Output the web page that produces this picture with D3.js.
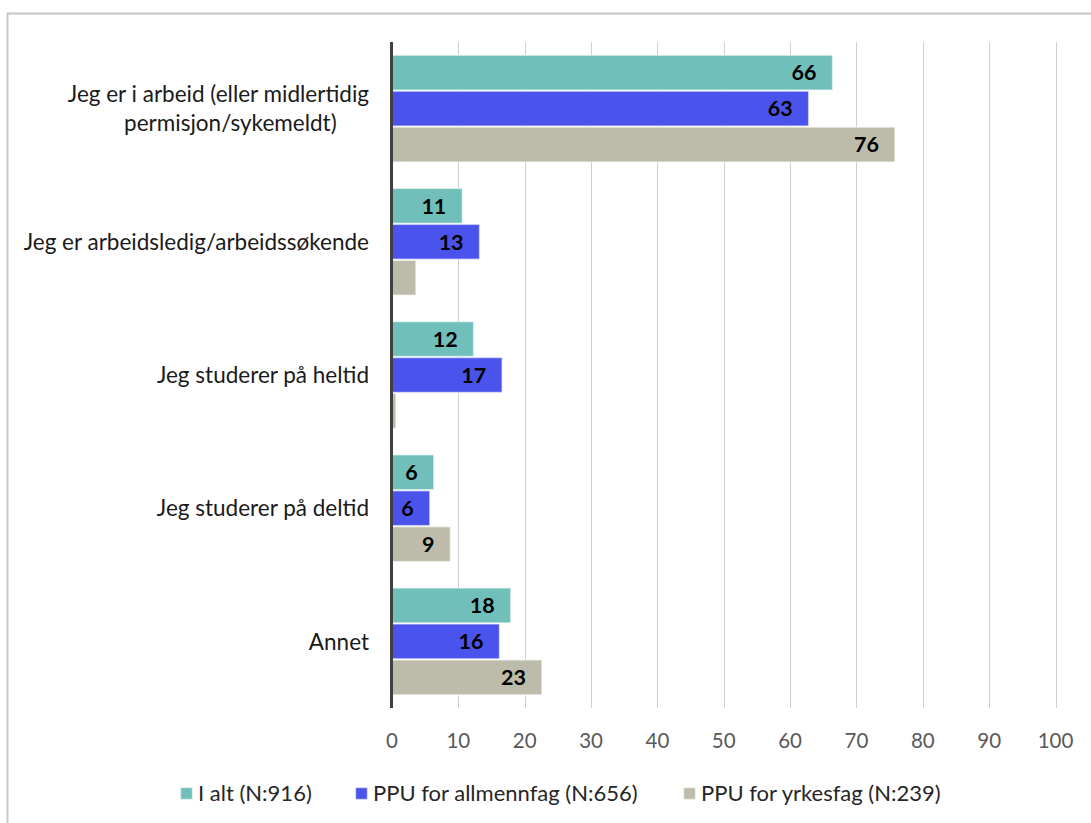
<!DOCTYPE html>
<html>
<head>
<meta charset="utf-8">
<script src="https://cdn.jsdelivr.net/npm/d3@7"></script>
<style>
  html, body { margin: 0; padding: 0; background: #fff; }
  svg { display: block; font-family: Lato, "Open Sans", sans-serif; }
</style>
</head>
<body>
<svg id="chart" width="1091" height="823"></svg>
<script>
// ---- data ----
const categories = [
  ["Jeg er i arbeid (eller midlertidig", "permisjon/sykemeldt)"],
  ["Jeg er arbeidsledig/arbeidssøkende"],
  ["Jeg studerer på heltid"],
  ["Jeg studerer på deltid"],
  ["Annet"]
];
const seriesNames = ["I alt (N:916)", "PPU for allmennfag (N:656)", "PPU for yrkesfag (N:239)"];
const iAlt      = [66.4, 10.6, 12.3, 6.3, 17.9];
const allmenn   = [62.8, 13.2, 16.6, 5.7, 16.2];
const yrkesfag  = [75.8, 3.6, 0.6, 8.8, 22.6];
const xTicks    = [0, 10, 20, 30, 40, 50, 60, 70, 80, 90, 100];
const colors    = ["#70BFBB", "#4A54EC", "#BDBCAA"];

const seriesValues = [iAlt, allmenn, yrkesfag];

const svg = d3.select("#chart");

// outer frame
svg.append("rect")
  .attr("x", 7.5).attr("y", 13.5)
  .attr("width", 1200).attr("height", 900)
  .attr("fill", "none").attr("stroke", "#c6c6c6").attr("stroke-width", 2);

const x = d3.scaleLinear().domain([0, 100]).range([392, 1055.5]);
const catIdx = categories.map((d, i) => i);
const y0 = d3.scaleBand().domain(catIdx).range([42, 708]).paddingInner(0.19).paddingOuter(0.095);
const y1 = d3.scaleBand().domain([0, 1, 2]).range([0, y0.bandwidth()]).padding(0);

// gridlines
svg.append("g").selectAll("line").data(xTicks.filter(t => t > 0)).join("line")
  .attr("x1", d => Math.round(x(d)) + 0.5).attr("x2", d => Math.round(x(d)) + 0.5)
  .attr("y1", 42).attr("y2", 708)
  .attr("stroke", "#d0d0d0").attr("stroke-width", 1);

// bars
const groups = svg.append("g").selectAll("g").data(catIdx).join("g")
  .attr("transform", i => `translate(0,${y0(i)})`);

groups.selectAll("rect").data(i => seriesValues.map((s, k) => ({k, v: s[i]}))).join("rect")
  .attr("x", x(0))
  .attr("y", d => y1(d.k) + 0.5)
  .attr("width", d => x(d.v) - x(0))
  .attr("height", y1.bandwidth() - 1)
  .attr("fill", d => colors[d.k])
  .attr("stroke", "rgba(255,255,255,0.55)")
  .attr("stroke-width", 1.5);

groups.selectAll("text").data(i => seriesValues.map((s, k) => ({k, v: s[i]})).filter(d => d.v >= 5)).join("text")
  .attr("x", d => x(d.v) - 16)
  .attr("y", d => y1(d.k) + y1.bandwidth() / 2)
  .attr("dy", "0.36em")
  .attr("text-anchor", "end")
  .attr("font-weight", "bold")
  .attr("font-size", 21.5)
  .attr("fill", "#000")
  .text(d => d3.format(".0f")(d.v));

// axis line (vertical)
svg.append("line")
  .attr("x1", 391.5).attr("x2", 391.5).attr("y1", 42).attr("y2", 708)
  .attr("stroke", "#404040").attr("stroke-width", 3);

// category labels
const catFont = 22.5;
const catG = svg.append("g");
categories.forEach((lines, i) => {
  const cy = y0(i) + y0.bandwidth() / 2;
  if (lines.length === 1) {
    catG.append("text")
      .attr("x", 369).attr("y", cy).attr("dy", "0.36em")
      .attr("text-anchor", "end").attr("font-size", catFont).attr("fill", "#1a1a1a")
      .text(lines[0]);
  } else {
    const t = catG.append("text").attr("font-size", catFont).attr("fill", "#1a1a1a").attr("text-anchor", "middle");
    const tmp = t.append("tspan").text(lines[0]);
    const w = tmp.node().getComputedTextLength();
    tmp.remove();
    const cx = 369 - w / 2;
    lines.forEach((ln, j) => {
      t.append("tspan").attr("x", cx + (j === 0 ? 0 : 12))
        .attr("y", cy + (j - (lines.length - 1) / 2) * 29)
        .attr("dy", "0.36em").text(ln);
    });
  }
});

// x tick labels
svg.append("g").selectAll("text").data(xTicks).join("text")
  .attr("x", d => x(d)).attr("y", 741).attr("dy", "0.36em")
  .attr("text-anchor", "middle").attr("font-size", 20.5).attr("fill", "#595959")
  .text(d => d);

// legend
const legendX = [180, 355, 683];
const lg = svg.append("g").selectAll("g").data(seriesNames).join("g")
  .attr("transform", (d, i) => `translate(${legendX[i]},787)`);
lg.append("rect").attr("x", 0.5).attr("y", 0.5).attr("width", 12).attr("height", 12)
  .attr("fill", (d, i) => colors[i]).attr("stroke", "rgba(255,255,255,0.55)").attr("stroke-width", 1.5);
lg.append("text").attr("x", 18).attr("y", 6.5).attr("dy", "0.36em")
  .attr("font-size", 22).attr("fill", "#262626").text(d => d);
</script>
</body>
</html>
